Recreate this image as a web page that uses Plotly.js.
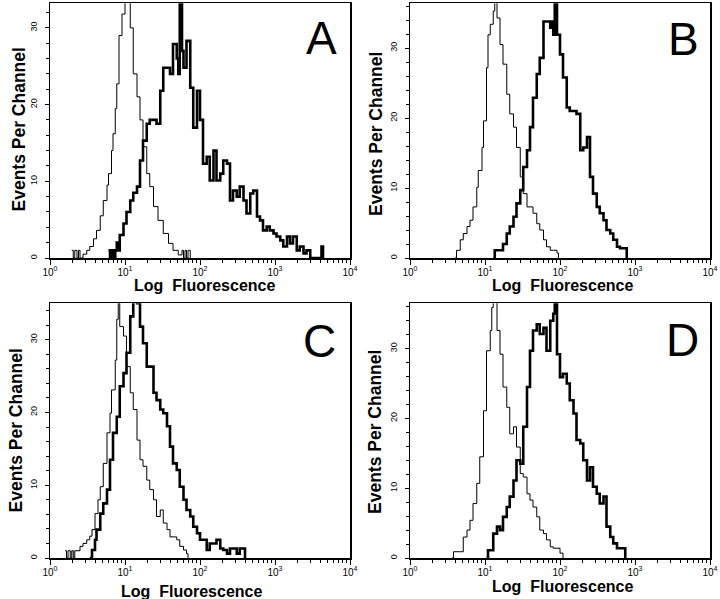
<!DOCTYPE html>
<html><head><meta charset="utf-8">
<script src="https://cdn.plot.ly/plotly-3.0.1.min.js"></script>
<style>html,body{margin:0;padding:0;background:#fff}#chart{width:720px;height:599px}</style>
</head><body><div id="chart"></div>
<script>
// Panel labels and axis text
const panelLetters = ['A', 'B', 'C', 'D'];
const xTitle = 'Log  Fluorescence';
const yTitle = 'Events Per Channel';
const xTickVals = [1, 10, 100, 1000, 10000];
const xTickText = ['10<sup>0</sup>', '10<sup>1</sup>', '10<sup>2</sup>', '10<sup>3</sup>', '10<sup>4</sup>'];
const yMax = [33.2, 36.4, 35.0, 36.5];

// Histogram channels: log10(fluorescence) and events per channel
const aThinLog = [0.29,0.31,0.33,0.36,0.38,0.40,0.44,0.49,0.53,0.58,0.62,0.67,0.71,0.76,0.78,0.82,0.84,0.87,0.89,0.92,0.96,1.0,1.04,1.07,1.11,1.16,1.2,1.24,1.29,1.33,1.38,1.44,1.51,1.58,1.64,1.71,1.76,1.78,1.8,1.82,1.84,1.87];
const aThinCount = [1,0,1,0,1,0,0.5,1,1.5,2.5,3.6,5.5,7.5,9.5,11,14,16.2,19.5,22.7,29,31.8,34,33.5,30,24,21,18,14.5,11,9.3,6.7,4.9,3.2,1.9,1,0.4,1,0,1,0,1,0];
const aThickLog = [0.78,0.80,0.82,0.84,0.87,0.89,0.91,0.93,0.98,1.02,1.07,1.11,1.16,1.20,1.24,1.29,1.33,1.38,1.42,1.47,1.51,1.56,1.60,1.64,1.69,1.71,1.73,1.76,1.78,1.82,1.87,1.91,1.96,2.00,2.04,2.09,2.13,2.18,2.22,2.27,2.31,2.36,2.40,2.44,2.49,2.53,2.58,2.62,2.67,2.71,2.76,2.80,2.84,2.89,2.93,2.98,3.02,3.07,3.11,3.16,3.20,3.24,3.29,3.33,3.38,3.42,3.47,3.60,3.62,3.64];
const aThickCount = [1,0,1,0,1,2,1,3,4.5,6,7.5,8.5,9.3,12.7,15.3,17.5,18,18,17.5,21.8,24.8,24.8,24,27.9,26,24,34,27,24.8,28.3,22.2,17,21.8,18,12.3,13.2,10.1,14,10.1,11,12.7,12.3,7.5,8.8,8,9.3,7.5,5.8,8.4,8.8,5.4,4.9,3.6,4.1,3.6,3.2,2.8,2.3,1.5,2.8,1.9,2.8,1,1.5,0.6,1,0,0,1.5,0];

const bThinLog = [0.60,0.62,0.67,0.71,0.76,0.80,0.84,0.89,0.91,0.96,0.98,1.02,1.04,1.07,1.11,1.13,1.16,1.20,1.24,1.29,1.33,1.38,1.42,1.47,1.51,1.56,1.60,1.64,1.69,1.73,1.78,1.82,1.87,1.91,1.96,1.98];
const bThinCount = [0,1.1,2.6,3.5,4.5,5.4,7.3,10.1,12.5,15.8,19.6,27.2,31.9,33.4,35.3,37,34.3,30.5,27.7,23.4,20.6,18.7,15.8,11.6,9.2,7.3,7.3,6.4,4.9,4,2.6,1.6,1.1,1.1,0.7,0];
const bThickLog = [1.11,1.13,1.20,1.24,1.29,1.33,1.38,1.42,1.47,1.51,1.56,1.60,1.64,1.69,1.73,1.78,1.82,1.87,1.89,1.91,1.93,1.96,2.00,2.04,2.09,2.13,2.18,2.22,2.27,2.31,2.36,2.40,2.44,2.49,2.53,2.58,2.62,2.67,2.71,2.76,2.80,2.84,2.89];
const bThickCount = [0,1.1,1.1,2,3.5,4.5,5.9,7.8,9.7,13,15.4,18.7,22.9,26.3,28.6,33.8,33.8,32.9,33.8,31.9,37,31.9,29.1,25.8,21.5,21,21,20.6,15.4,15.8,17.3,11.6,9.2,7.3,6.4,5.4,4,3.5,2.6,1.6,1.4,1.4,0];

const cThinLog = [0.20,0.22,0.24,0.27,0.29,0.31,0.33,0.36,0.40,0.44,0.49,0.53,0.56,0.60,0.64,0.67,0.71,0.76,0.80,0.82,0.87,0.89,0.91,0.93,0.98,1.02,1.07,1.11,1.16,1.20,1.24,1.29,1.33,1.38,1.42,1.47,1.51,1.56,1.60,1.64,1.69,1.73,1.78,1.82,1.84];
const cThinCount = [1,0,1,0,1,0,1,1,1.6,2,2.5,3,3.9,6.1,8,9.8,13,17.2,19.9,23.1,27.2,32.8,36,31.8,30.5,26.3,22.7,20.4,16.2,13.5,12.6,10.7,9.4,8,5.7,6.6,4.8,3.9,2.9,2.9,2.5,1.6,1.1,0.6,0];
const cThickLog = [0.53,0.56,0.60,0.62,0.67,0.71,0.76,0.80,0.84,0.89,0.93,0.98,1.02,1.07,1.11,1.16,1.20,1.24,1.29,1.33,1.38,1.42,1.47,1.51,1.56,1.60,1.64,1.69,1.73,1.78,1.82,1.87,1.91,1.96,2.00,2.04,2.09,2.13,2.18,2.22,2.27,2.31,2.36,2.40,2.44,2.49,2.53,2.58,2.60];
const cThickCount = [0,1.1,2.5,3.9,6.1,7.5,9.4,13.5,17.2,19.4,23.6,25.4,28.2,33.2,36,35,31.8,29.5,26.3,26.3,22.7,21.7,20.4,19.9,18.1,15.3,13,12.1,9.8,8,6.6,5.7,4.3,3.4,2.5,2.5,1.1,2,2,2.5,1.3,1.1,0.6,1.3,1.3,0.6,1.3,1.3,0];

const dThinLog = [0.56,0.58,0.67,0.71,0.76,0.80,0.84,0.89,0.93,0.98,1.02,1.07,1.09,1.11,1.16,1.20,1.24,1.29,1.33,1.38,1.42,1.47,1.51,1.56,1.60,1.64,1.69,1.73,1.78,1.82,1.87,1.91,1.96,2.00,2.04];
const dThinCount = [0,0.9,0.9,3,4,5.4,7.8,10.7,14.5,21.1,29.7,32.6,35.9,37,32.6,29.2,24.5,21.6,17.8,18.8,15.9,12.1,11.6,9.2,8.3,7.3,5.9,4,3.5,2.6,1.6,1.4,1.4,0.7,0];
const dThickLog = [1.02,1.04,1.11,1.16,1.20,1.24,1.29,1.33,1.38,1.42,1.47,1.51,1.56,1.60,1.64,1.69,1.73,1.78,1.82,1.87,1.91,1.93,1.96,2.00,2.04,2.09,2.13,2.18,2.22,2.27,2.31,2.36,2.40,2.44,2.49,2.53,2.58,2.62,2.67,2.71,2.76,2.84,2.87];
const dThickCount = [0,1.1,3.5,4.5,4,5.9,7.3,8.8,11.1,14,13.5,18.8,24.5,29.7,32.6,33.5,32.1,33,29.7,34,35,37,29.2,25.9,26.4,25,22.6,20.7,16.9,16.4,14,11.1,13,10.2,9.2,7.8,8.8,4.5,3,2.1,1.4,1.4,0];

const panels = [
  {thinLog: aThinLog, thinY: aThinCount, thickLog: aThickLog, thickY: aThickCount},
  {thinLog: bThinLog, thinY: bThinCount, thickLog: bThickLog, thickY: bThickCount},
  {thinLog: cThinLog, thinY: cThinCount, thickLog: cThickLog, thickY: cThickCount},
  {thinLog: dThinLog, thinY: dThinCount, thickLog: dThickLog, thickY: dThickCount}
];

const W = 720, H = 599;
const FONT = 'Liberation Sans, Arial, Helvetica, sans-serif';
// plot boxes in pixels: [left, right, top, bottom]
const boxes = [[50, 350, 3.3, 258], [410, 710, 3.3, 258], [50, 350, 303.3, 558], [410, 710, 303.3, 558]];
const xTitlePos = [[204, 285], [562, 285], [191, 591], [562, 586]];
const yTitlePos = [[18.5, 130], [375.5, 134.5], [15, 430.5], [375, 432]];
const letterPos = [[321, 38], [683, 39], [319, 341], [682, 340]];

const minorX = [];
for (let d = 0; d < 4; d++) for (let k = 2; k <= 9; k++) minorX.push(k * Math.pow(10, d));

const toLin = arr => arr.map(v => Math.pow(10, v));

const data = [];
const layout = {
  width: W, height: H,
  margin: {l: 0, r: 0, t: 0, b: 0},
  paper_bgcolor: '#fff', plot_bgcolor: '#fff',
  showlegend: false,
  font: {family: FONT, color: '#000'},
  annotations: []
};

panels.forEach((p, i) => {
  const n = i + 1;
  const xa = 'x' + (n === 1 ? '' : n), ya = 'y' + (n === 1 ? '' : n);
  data.push({x: toLin(p.thinLog), y: p.thinY, xaxis: xa, yaxis: ya, type: 'scatter', mode: 'lines',
    line: {shape: 'hv', color: '#000', width: 1}, hoverinfo: 'skip'});
  data.push({x: toLin(p.thickLog), y: p.thickY, xaxis: xa, yaxis: ya, type: 'scatter', mode: 'lines',
    line: {shape: 'hv', color: '#000', width: 2.6}, hoverinfo: 'skip'});
  const b = boxes[i];
  const xkey = 'xaxis' + (n === 1 ? '' : n), ykey = 'yaxis' + (n === 1 ? '' : n);
  layout[xkey] = {
    type: 'log', range: [0, 4], domain: [b[0] / W, b[1] / W], anchor: ya,
    showline: true, linecolor: '#000', linewidth: 1.5, mirror: true,
    showgrid: false, zeroline: false,
    tickmode: 'array', tickvals: xTickVals, ticktext: xTickText,
    ticks: 'outside', ticklen: 5, tickwidth: 1, tickcolor: '#000',
    ticklabelstandoff: -1,
    tickfont: {size: 10, family: FONT, color: '#000'},
    minor: {tickmode: 'array', tickvals: minorX, ticks: 'outside', ticklen: 3, tickwidth: 1, tickcolor: '#000', showgrid: false}
  };
  layout[ykey] = {
    range: [0, yMax[i]], domain: [1 - b[3] / H, 1 - b[2] / H], anchor: xa,
    showline: true, linecolor: '#000', linewidth: 1.5, mirror: true,
    showgrid: false, zeroline: false,
    tickmode: 'linear', tick0: 0, dtick: 10, tickangle: -90,
    ticks: 'outside', ticklen: 4, tickwidth: 1, tickcolor: '#000',
    ticklabelstandoff: 4,
    tickfont: {size: 9, family: FONT, color: '#000'},
    minor: {dtick: 2, ticks: 'outside', ticklen: 3, tickwidth: 1, tickcolor: '#000', showgrid: false}
  };
  layout.annotations.push({
    text: xTitle, xref: 'paper', yref: 'paper', x: xTitlePos[i][0] / W, y: 1 - xTitlePos[i][1] / H,
    xanchor: 'center', yanchor: 'middle', showarrow: false,
    font: {family: FONT, size: 16, weight: 'bold', color: '#000'}
  });
  layout.annotations.push({
    text: yTitle, xref: 'paper', yref: 'paper', x: yTitlePos[i][0] / W, y: 1 - yTitlePos[i][1] / H,
    xanchor: 'center', yanchor: 'middle', showarrow: false, textangle: -90,
    font: {family: FONT, size: 17.5, weight: 'bold', color: '#000'}
  });
  layout.annotations.push({
    text: panelLetters[i], xref: 'paper', yref: 'paper', x: letterPos[i][0] / W, y: 1 - letterPos[i][1] / H,
    xanchor: 'center', yanchor: 'middle', showarrow: false,
    font: {family: FONT, size: 46, color: '#000'}
  });
});

Plotly.newPlot('chart', data, layout, {staticPlot: true, displayModeBar: false});
</script>
</body></html>
